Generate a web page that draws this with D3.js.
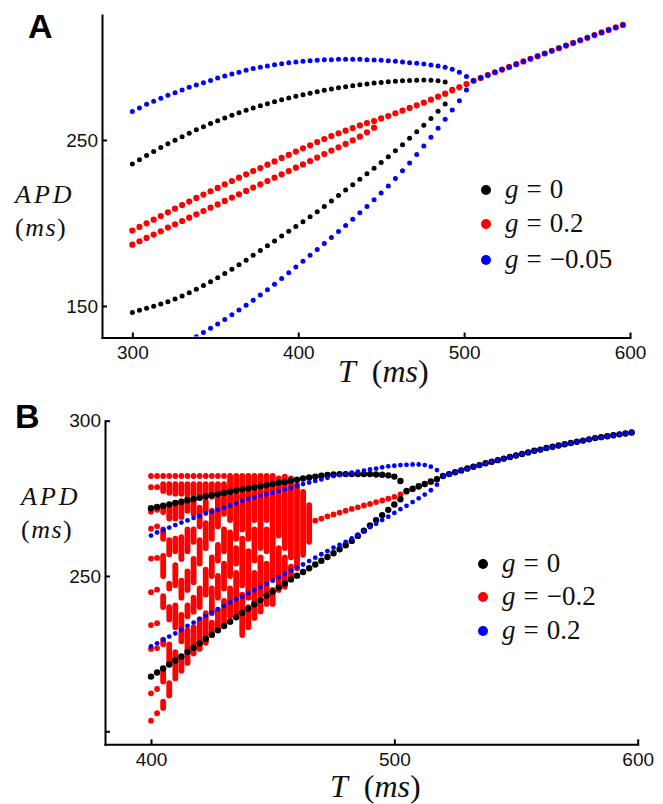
<!DOCTYPE html>
<html>
<head>
<meta charset="utf-8">
<script src="https://cdn.jsdelivr.net/npm/d3@7"></script>
<style>
  body { margin: 0; background: #fff; }
  .tick text { font-family: "Liberation Sans", Arial, sans-serif; font-size: 19px; fill: #111; }
  .lab { font-family: "Liberation Serif", "Times New Roman", serif; font-style: italic; fill: #111; }
  .up { font-style: normal; }
  .panel { font-family: "Liberation Sans", Arial, sans-serif; font-weight: bold; font-size: 34px; }
</style>
</head>
<body>
<div id="container"></div>
<script>
// ---------------- panel A : T = 300 + k*300/70 ----------------
const aT0 = 300, aStep = 300 / 70;

// g = 0 (black)
const aBlackUp = [235.5, 238.1, 240.6, 243.0, 245.4, 247.7, 249.9, 252.0, 254.1, 256.1,
  258.0, 259.9, 261.6, 263.3, 264.9, 266.4, 267.9, 269.3, 270.6, 271.9,
  273.1, 274.2, 275.3, 276.3, 277.3, 278.2, 279.1, 279.9, 280.7, 281.4,
  282.1, 282.7, 283.3, 283.8, 284.3, 284.7, 285.1, 285.4, 285.7, 285.9,
  286.0, 286.1, 286.0, 285.7, 284.9];                       // k 0..44
const aBlackLow = [146.0, 147.4, 148.6, 149.8, 151.2, 152.6, 154.2, 156.0, 158.0, 160.1,
  162.3, 164.6, 167.0, 169.5, 172.1, 174.8, 177.6, 180.5, 183.4, 186.3,
  189.2, 192.1, 195.0, 197.9, 200.8, 203.8, 206.8, 209.9, 213.2, 216.5,
  219.8, 223.1, 226.4, 229.7, 233.0, 236.4, 239.9, 243.5, 247.2, 251.0,
  254.9, 258.9, 263.0, 267.3, 271.7];                       // k 0..44
const aBlackOne = [280.5, 281.9, 283.7];                    // k 45..47

// g = 0.2 (red)
const aRedUp = [195.4, 197.6, 199.8, 202.0, 204.2, 206.4, 208.6, 210.8, 212.9, 215.1,
  217.1, 219.1, 221.1, 223.3, 225.3, 227.3, 229.3, 231.3, 233.1, 235.1,
  237.1, 239.2, 241.0, 243.0, 245.0, 246.8, 248.8, 250.6, 252.4, 254.0,
  255.6, 257.2, 258.8, 260.2];                              // k 0..33
const aRedLow = [186.9, 189.0, 191.0, 193.0, 195.0, 197.2, 199.2, 201.2, 203.2, 205.2,
  207.2, 209.2, 211.2, 213.3, 215.3, 217.3, 219.3, 221.3, 223.3, 225.3,
  227.3, 229.3, 231.3, 233.3, 235.3, 237.3, 239.4, 241.5, 243.6, 245.6,
  247.6, 249.8, 252.0, 254.6, 257.4];                       // k 0..34
const aRedOne = [261.4, 263.0, 264.4, 266.1, 267.7, 269.3, 270.9, 272.5, 274.3, 276.1,
  277.9, 279.9, 281.7, 283.7];                              // k 34..47

// g = -0.05 (blue)
const aBlueUp = [267.1, 269.3, 271.5, 273.3, 275.1, 276.9, 278.5, 280.1, 281.7, 283.1,
  284.5, 285.9, 287.3, 288.6, 289.8, 290.8, 292.0, 293.0, 293.8, 294.6,
  295.4, 296.0, 296.6, 297.0, 297.4, 297.8, 298.0, 298.3, 298.4, 298.6,
  298.6, 298.6, 298.6, 298.4, 298.2, 298.0, 297.8, 297.4, 297.0, 296.6,
  296.2, 295.8, 295.2, 294.6, 293.8, 292.6, 290.8, 288.2];  // k 0..47
const aBlueLow = [131.5, 134.0, 136.6, 139.2, 141.9, 144.7, 147.6, 150.5, 153.5, 156.6,
  159.8, 163.1, 166.5, 170.0, 173.5, 177.0, 180.5, 184.0, 187.6, 191.2,
  194.8, 198.5, 202.3, 206.1, 210.0, 214.0, 218.0, 222.3, 226.8, 231.4,
  236.2, 241.2, 246.3, 251.6, 257.0, 262.5, 268.0, 273.7, 280.1]; // k 9..47

// common branch, k 48..69
const aMerged = [285.7, 287.4, 289.1, 290.8, 292.4, 294.0, 295.7, 297.3, 298.9, 300.5,
  302.1, 303.7, 305.3, 306.9, 308.5, 310.1, 311.6, 313.2, 314.8, 316.3,
  317.8, 319.3];

// ---------------- panel B : T = 400 + 2.5k ----------------
const bT0 = 400, bStep = 2.5;

const bBlackUp = [271.8, 272.2, 272.6, 273.0, 273.5, 273.9, 274.4, 274.8, 275.2, 275.6,
  276.0, 276.3, 276.7, 277.1, 277.5, 277.9, 278.2, 278.5, 278.9, 279.2,
  279.6, 280.0, 280.3, 280.7, 281.0, 281.4, 281.7, 282.0, 282.3, 282.5,
  282.7, 282.8, 282.8, 282.8, 282.8, 282.8, 282.8, 282.7, 282.6, 282.4,
  282.0, 280.6];                                            // k 0..41
const bBlackLow = [217.6, 218.9, 220.2, 221.5, 222.8, 224.1, 225.5, 226.9, 228.3, 229.7,
  231.1, 232.5, 233.9, 235.3, 236.7, 238.1, 239.5, 240.9, 242.3, 243.7,
  245.0, 246.3, 247.6, 248.9, 250.1, 251.3, 252.5, 253.7, 254.9, 256.1,
  257.3, 258.6, 259.9, 261.3, 262.9, 264.6, 266.3, 268.0, 269.6, 271.3,
  273.0, 274.7];                                            // k 0..41
const bBlackOne = [277.4, 278.1, 278.9, 279.6, 280.4, 281.2]; // k 42..47

const bBlueUp = [263.0, 264.0, 264.8, 265.6, 266.4, 267.2, 267.9, 268.7, 269.3, 270.1,
  270.7, 271.3, 272.0, 272.7, 273.4, 274.2, 274.8, 275.3, 275.9, 276.3,
  276.8, 277.4, 277.9, 278.4, 279.1, 279.6, 280.1, 280.6, 281.1, 281.6,
  282.2, 282.5, 282.8, 283.3, 283.6, 283.9, 284.3, 284.6, 285.0, 285.3,
  285.5, 285.7, 285.8, 285.9, 285.9, 285.7, 285.2, 284.1];  // k 0..47
const bBlueLow = [227.3, 228.3, 229.4, 230.5, 231.5, 232.6, 233.9, 235.0, 236.2, 237.1,
  238.2, 239.3, 240.3, 241.5, 242.5, 243.3, 244.4, 245.4, 246.4, 247.5,
  248.5, 249.6, 250.6, 251.7, 252.7, 253.7, 254.8, 255.9, 257.0, 258.0,
  259.1, 260.0, 261.0, 262.1, 263.3, 264.5, 265.7, 266.8, 268.0, 269.1,
  270.3, 271.5, 272.6, 273.8, 275.0, 276.2, 277.6, 279.4];  // k 0..47

const bRedOne = [267.8, 268.5, 269.2, 269.8, 270.4, 271.0, 271.6, 272.1, 272.7, 273.2,
  273.8, 274.3, 274.9, 275.5, 276.3, 277.1, 277.9, 278.7, 279.5, 280.3,
  281.2];                                                   // k 27..47

const bMerged = [282.2, 282.8, 283.4, 284.0, 284.6, 285.2, 285.7, 286.3, 286.8, 287.3,
  287.8, 288.3, 288.8, 289.3, 289.8, 290.3, 290.7, 291.2, 291.6, 292.0,
  292.4, 292.8, 293.2, 293.6, 294.0, 294.4, 294.7, 295.0, 295.3, 295.6,
  295.9, 296.2];                                            // k 48..79

// g = -0.2 irregular region, k 0..26 : [low, high] runs of dots per column
const bRedChaos = [
  [[282.2], [278.6], [270.7], [265.2], [255.6], [244.8], [234.2], [226.5], [212.2], [203.4]],
  [[282.2], [278.6], [271.3], [266.0], [255.8], [245.6], [234.8], [226.8], [213.6], [205.8]],
  [[282.2], [277.4, 279.6], [270.6, 272.4], [262.0, 265.0], [250.0, 256.5], [240.0, 243.5], [228.0, 229.5], [216.0, 219.5], [207.5, 209.5]],
  [[282.2], [276.8, 279.6], [268.5, 272.0], [257.0, 261.5], [246.0, 247.5], [236.0, 240.0], [222.0, 228.0], [211.5, 215.5]],
  [[282.2], [276.5, 279.6], [268.5, 273.5], [258.0, 262.0], [247.0, 253.5], [233.5, 240.5], [217.0, 225.5]],
  [[282.2], [276.5, 279.6], [269.0, 274.0], [255.5, 262.5], [243.0, 248.5], [229.0, 237.5], [219.5, 224.0]],
  [[282.2], [276.2, 279.6], [271.0, 275.0], [258.0, 265.0], [245.5, 251.5], [237.0, 240.5], [222.0, 232.5]],
  [[282.2], [276.2, 279.6], [270.0, 274.5], [261.0, 265.0], [248.0, 255.5], [238.5, 243.0], [225.0, 233.5]],
  [[282.2], [275.5, 279.6], [266.0, 272.0], [254.0, 261.5], [240.0, 246.0], [226.5, 236.0]],
  [[282.2], [276.2, 279.6], [271.0, 274.0], [259.0, 267.0], [244.0, 252.0], [228.5, 238.0]],
  [[282.2], [275.5, 279.6], [262.0, 271.0], [250.0, 256.0], [238.0, 246.0], [231.0, 235.0]],
  [[282.2], [277.0, 279.6], [266.0, 275.0], [255.0, 260.0], [243.0, 250.0], [233.0, 239.0]],
  [[282.2], [270.0, 279.6], [258.0, 265.0], [246.0, 254.0], [235.0, 242.0]],
  [[268.0, 282.2], [250.0, 264.0], [237.0, 246.0]],
  [[262.0, 282.2], [254.0, 259.0], [238.0, 251.0]],
  [[265.0, 282.2], [247.0, 262.0], [231.0, 244.0]],
  [[262.0, 282.2], [243.0, 258.0], [233.5, 240.0]],
  [[268.0, 282.2], [255.0, 265.0], [236.5, 251.0]],
  [[259.0, 282.2], [244.0, 256.0], [238.6, 241.0]],
  [[268.0, 282.2], [258.0, 265.0], [241.0, 254.0]],
  [[249.0, 282.2], [241.0, 245.5]],
  [[263.0, 281.4], [245.5, 259.0]],
  [[259.0, 282.0], [246.5, 256.0]],
  [[256.0, 281.4], [249.0, 253.0]],
  [[252.5, 279.3]],
  [[256.8, 277.1]],
  [[261.0, 272.8]]
];

const legendA = ["0", "0.2", "\u22120.05"];
const legendB = ["0", "\u22120.2", "0.2"];

// --------------------------------------------------------
const svg = d3.select("#container").append("svg")
  .attr("width", 663).attr("height", 804);

function branch(vals, k0, t0, dt) {
  return vals.map((v, i) => ({ t: t0 + (k0 + i) * dt, v: v }));
}

function dots(g, data, x, y, color, r) {
  g.selectAll(null).data(data).enter().append("circle")
    .attr("cx", d => x(d.t))
    .attr("cy", d => y(d.v))
    .attr("r", r)
    .attr("fill", color);
}

function frame(x, y, xTicks, yTicks, yFmt, id) {
  let g = svg.append("g");
  g.append("g")
    .attr("transform", "translate(0," + y.range()[0] + ")")
    .call(d3.axisBottom(x).tickValues(xTicks).tickSize(-5).tickSizeOuter(0).tickPadding(8))
    .call(a => a.selectAll("path, line").attr("stroke", "#000").attr("stroke-width", 2));
  g.append("g")
    .attr("transform", "translate(" + x.range()[0] + ",0)")
    .call(d3.axisLeft(y).tickValues(yTicks).tickSize(-5).tickSizeOuter(0).tickPadding(4).tickFormat(yFmt))
    .call(a => a.selectAll("path, line").attr("stroke", "#000").attr("stroke-width", 2));
  g.selectAll(".domain").attr("stroke-linecap", "square");

  svg.append("clipPath").attr("id", id)
    .append("rect")
    .attr("x", x.range()[0] + 1).attr("y", y.range()[1] - 10)
    .attr("width", x.range()[1] - x.range()[0] + 10)
    .attr("height", y.range()[0] - y.range()[1] + 9);
  return svg.append("g").attr("clip-path", "url(#" + id + ")");
}

function legend(labels, colors, x0, ys) {
  labels.forEach((s, i) => {
    svg.append("circle").attr("cx", x0).attr("cy", ys[i]).attr("r", 5).attr("fill", colors[i]);
    let t = svg.append("text").attr("class", "lab")
      .attr("x", x0 + 19).attr("y", ys[i] + 8)
      .style("font-size", "27px");
    t.append("tspan").text("g");
    t.append("tspan").attr("class", "up").attr("dx", 8).text("=");
    t.append("tspan").attr("class", "up").attr("dx", 8).text(s);
  });
}

// "(ms)" with upright brackets
function ms(t, dx) {
  t.append("tspan").attr("class", "up").attr("dx", dx).text("(");
  t.append("tspan").text("ms");
  t.append("tspan").attr("class", "up").text(")");
}

function titles(xApd, yApd, xT, yT) {
  svg.append("text").attr("class", "lab").attr("x", xApd).attr("y", yApd)
    .style("font-size", "26px").style("letter-spacing", "3px").text("APD");
  let m = svg.append("text").attr("class", "lab").attr("x", xApd).attr("y", yApd + 33)
    .style("font-size", "26px").style("letter-spacing", "1.5px");
  ms(m, 0);
  let t = svg.append("text").attr("class", "lab").attr("x", xT).attr("y", yT)
    .style("font-size", "32px");
  t.append("tspan").text("T");
  ms(t, 16);
}

// ---------------- panel A ----------------
let xA = d3.scaleLinear().domain([281.7, 600]).range([102, 630]);
let yA = d3.scaleLinear().domain([131, 325.3]).range([337.5, 15]);
let gA = frame(xA, yA, [300, 400, 500, 600], [150, 250], d3.format("d"), "clipA");

dots(gA, branch(aBlackUp, 0, aT0, aStep), xA, yA, "#000", 2.5);
dots(gA, branch(aBlackLow, 0, aT0, aStep), xA, yA, "#000", 2.5);
dots(gA, branch(aBlackOne.concat(aMerged), 45, aT0, aStep), xA, yA, "#000", 2.5);
dots(gA, branch(aRedUp, 0, aT0, aStep), xA, yA, "#f00", 3.1);
dots(gA, branch(aRedLow, 0, aT0, aStep), xA, yA, "#f00", 3.1);
dots(gA, branch(aRedOne.concat(aMerged), 34, aT0, aStep), xA, yA, "#f00", 3.1);
dots(gA, branch(aBlueUp, 0, aT0, aStep), xA, yA, "#00f", 2.5);
dots(gA, branch(aBlueLow, 9, aT0, aStep), xA, yA, "#00f", 2.5);
dots(gA, branch(aMerged, 48, aT0, aStep), xA, yA, "#00f", 2.5);

svg.append("text").attr("class", "panel").attr("x", 28).attr("y", 38).text("A");
titles(15, 203, 338, 382);
legend(legendA, ["#000", "#f00", "#00f"], 486, [190, 224, 260]);

// ---------------- panel B ----------------
let xB = d3.scaleLinear().domain([381.1, 600]).range([105, 637.7]);
let yB = d3.scaleLinear().domain([195.8, 300]).range([744.3, 420.7]);
let gB = frame(xB, yB, [400, 500, 600], [200, 250, 300], d => d === 200 ? "" : d, "clipB");

// red runs of dots (a single value is one dot)
const rr = 2.9;
bRedChaos.forEach((col, k) => {
  let t = bT0 + k * bStep;
  gB.selectAll(null).data(col).enter().append("rect")
    .attr("x", xB(t) - rr)
    .attr("width", 2 * rr)
    .attr("y", d => yB(d[d.length - 1]) - rr)
    .attr("height", d => yB(d[0]) - yB(d[d.length - 1]) + 2 * rr)
    .attr("rx", rr)
    .attr("fill", "#f00");
});
dots(gB, branch(bRedOne.concat(bMerged), 27, bT0, bStep), xB, yB, "#f00", rr);
dots(gB, branch(bBlackUp, 0, bT0, bStep), xB, yB, "#000", 3.2);
dots(gB, branch(bBlackLow, 0, bT0, bStep), xB, yB, "#000", 3.2);
dots(gB, branch(bBlackOne.concat(bMerged), 42, bT0, bStep), xB, yB, "#000", 3.2);
dots(gB, branch(bBlueUp, 0, bT0, bStep), xB, yB, "#00f", 2.4);
dots(gB, branch(bBlueLow, 0, bT0, bStep), xB, yB, "#00f", 2.4);
dots(gB, branch(bMerged, 48, bT0, bStep), xB, yB, "#00f", 2.4);

svg.append("text").attr("class", "panel").attr("x", 15).attr("y", 428).text("B");
titles(21, 505, 330, 797);
legend(legendB, ["#000", "#f00", "#00f"], 483, [564, 597, 631]);
</script>
</body>
</html>
